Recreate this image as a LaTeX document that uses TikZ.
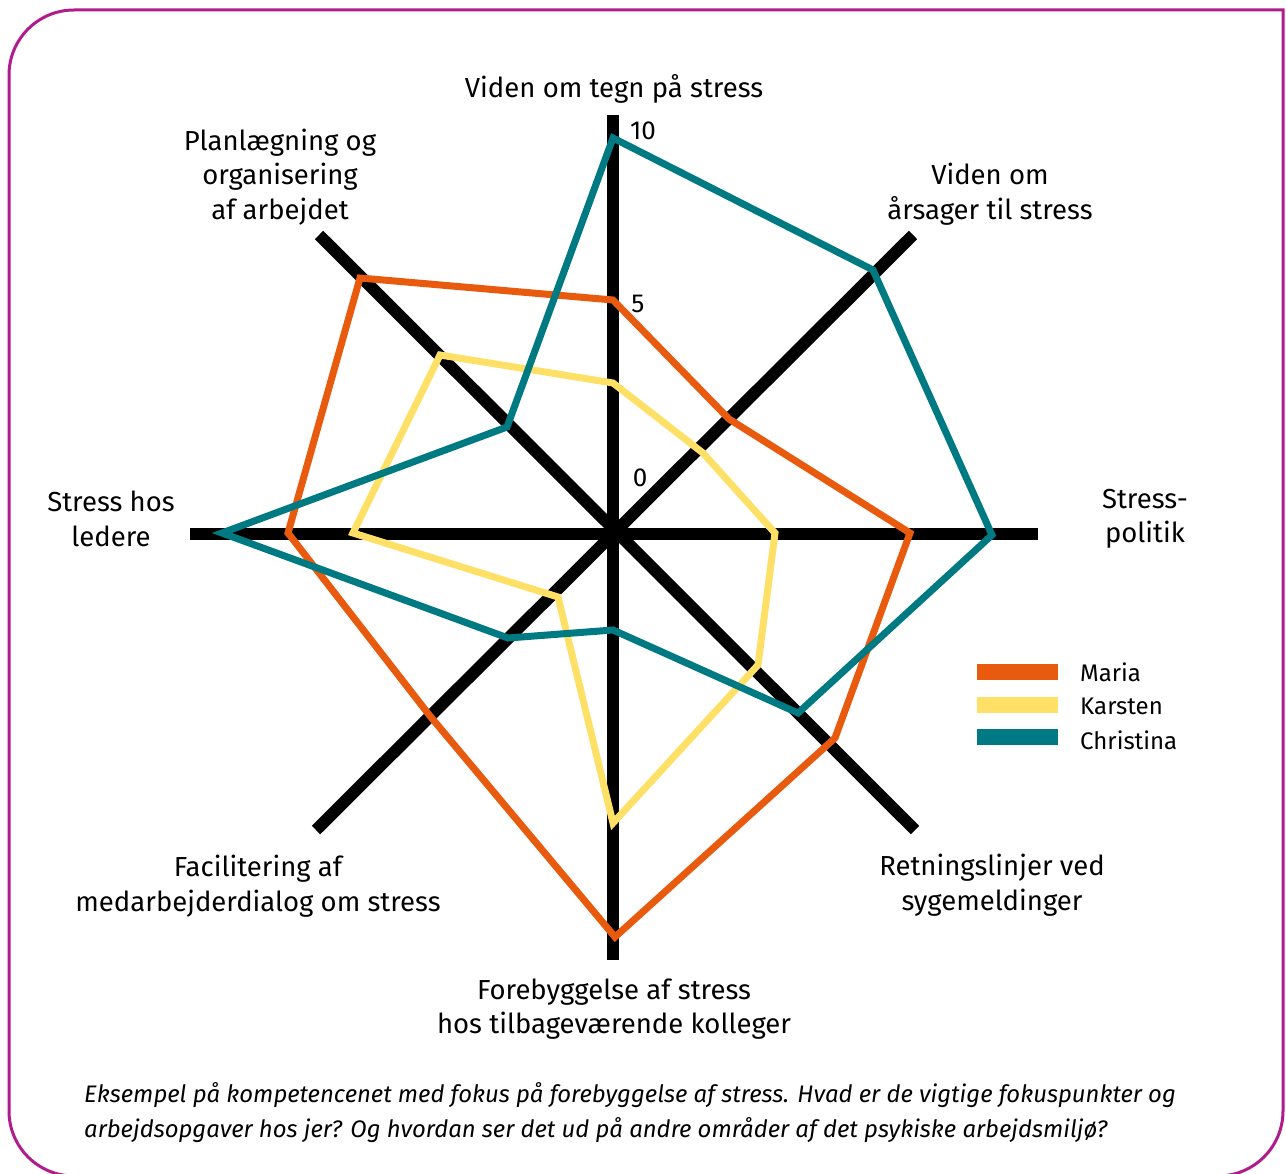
\documentclass[tikz,border=0pt]{standalone}
\usepackage{fontspec}
\setmainfont{Fira Sans}
\definecolor{frameM}{RGB}{176,28,140}
\definecolor{mariaC}{RGB}{232,91,14}
\definecolor{karstenC}{RGB}{255,224,102}
\definecolor{christinaC}{RGB}{0,122,130}
\tikzset{
  axisline/.style={line width=12pt, black, line cap=butt},
  series/.style={line width=7pt, line join=miter, miter limit=10},
  lbl/.style={align=center, inner sep=0pt, font=\fontsize{27.5}{34.5}\selectfont},
  scalelbl/.style={inner sep=0pt, font=\fontsize{26}{30}\selectfont},
  legbar/.style={minimum width=81pt, minimum height=16pt, inner sep=0pt, draw=none},
  leglbl/.style={anchor=west, inner sep=0pt, font=\fontsize{24}{30}\selectfont},
}
\begin{document}
\begin{tikzpicture}[x=1pt,y=-1pt]
\useasboundingbox (0,0) rectangle (1286,1174);
\clip (0,0) rectangle (1286,1174);
% frame
\draw[frameM, line width=3pt]
  (9,75) arc[start angle=180, end angle=270, radius=65] -- (1283,10)
  -- (1283,1111) arc[start angle=0, end angle=90, radius=65]
  -- (74,1176) arc[start angle=90, end angle=180, radius=65] -- cycle;
% axes
\coordinate (c) at (613,534);
\coordinate (aT) at (613,115);
\coordinate (aB) at (613,960);
\coordinate (aL) at (190,534);
\coordinate (aR) at (1038,534);
\coordinate (aTR) at (913,235);
\coordinate (aTL) at (319,235);
\coordinate (aBL) at (316,830);
\coordinate (aBR) at (915,830);
\draw[axisline] (aT) -- (aB);
\draw[axisline] (aL) -- (aR);
\draw[axisline] (aTR) -- (aBL);
\draw[axisline] (aTL) -- (aBR);
% series
\draw[series, mariaC] (613,300) -- (729,419) -- (910,533) -- (835,738) -- (615,937) -- (430,716) -- (288,533) -- (360,278) -- cycle;
\draw[series, karstenC] (613,383) -- (703,453) -- (775,533) -- (758,665) -- (613,823) -- (558,597) -- (353,533) -- (440,355) -- cycle;
\draw[series, christinaC] (613,138) -- (873,270) -- (992,535) -- (798,713) -- (613,630) -- (508,638) -- (222,533) -- (507,427) -- cycle;
% scale labels
\node[scalelbl] (s10) at (643,131) {10};
\node[scalelbl] (s5) at (638,304) {5};
\node[scalelbl] (s0) at (640,478) {0};
% axis labels
\node[lbl] (lT) at (614,89) {Viden om tegn på stress};
\node[lbl] (lTL) at (280,177) {Planlægning og\\organisering\\af arbejdet};
\node[lbl] (lTR) at (990,194) {Viden om\\årsager til stress};
\node[lbl] (lR) at (1145,519) {Stress-\\politik};
\node[lbl] (lL) at (111,519) {Stress hos\\ledere};
\node[lbl] (lBL) at (258,886) {Facilitering af\\medarbejderdialog om stress};
\node[lbl] (lBR) at (992,885) {Retningslinjer ved\\sygemeldinger};
\node[lbl] (lB) at (614,1009) {Forebyggelse af stress\\hos tilbageværende kolleger};
% legend
\node[legbar, fill=mariaC] (bM) at (1017,672) {};
\node[legbar, fill=karstenC] (bK) at (1017,705) {};
\node[legbar, fill=christinaC] (bC) at (1017,737) {};
\node[leglbl] (tM) at (1080,672) {Maria};
\node[leglbl] (tK) at (1080,706) {Karsten};
\node[leglbl] (tC) at (1080,740) {Christina};
% caption
\node[anchor=north west, align=left, inner sep=0pt, font=\fontsize{23.9}{35}\selectfont\itshape] (cap) at (84,1082)
  {Eksempel på kompetencenet med fokus på forebyggelse af stress. Hvad er de vigtige fokuspunkter og\\arbejdsopgaver hos jer? Og hvordan ser det ud på andre områder af det psykiske arbejdsmiljø?};
\end{tikzpicture}
\end{document}
